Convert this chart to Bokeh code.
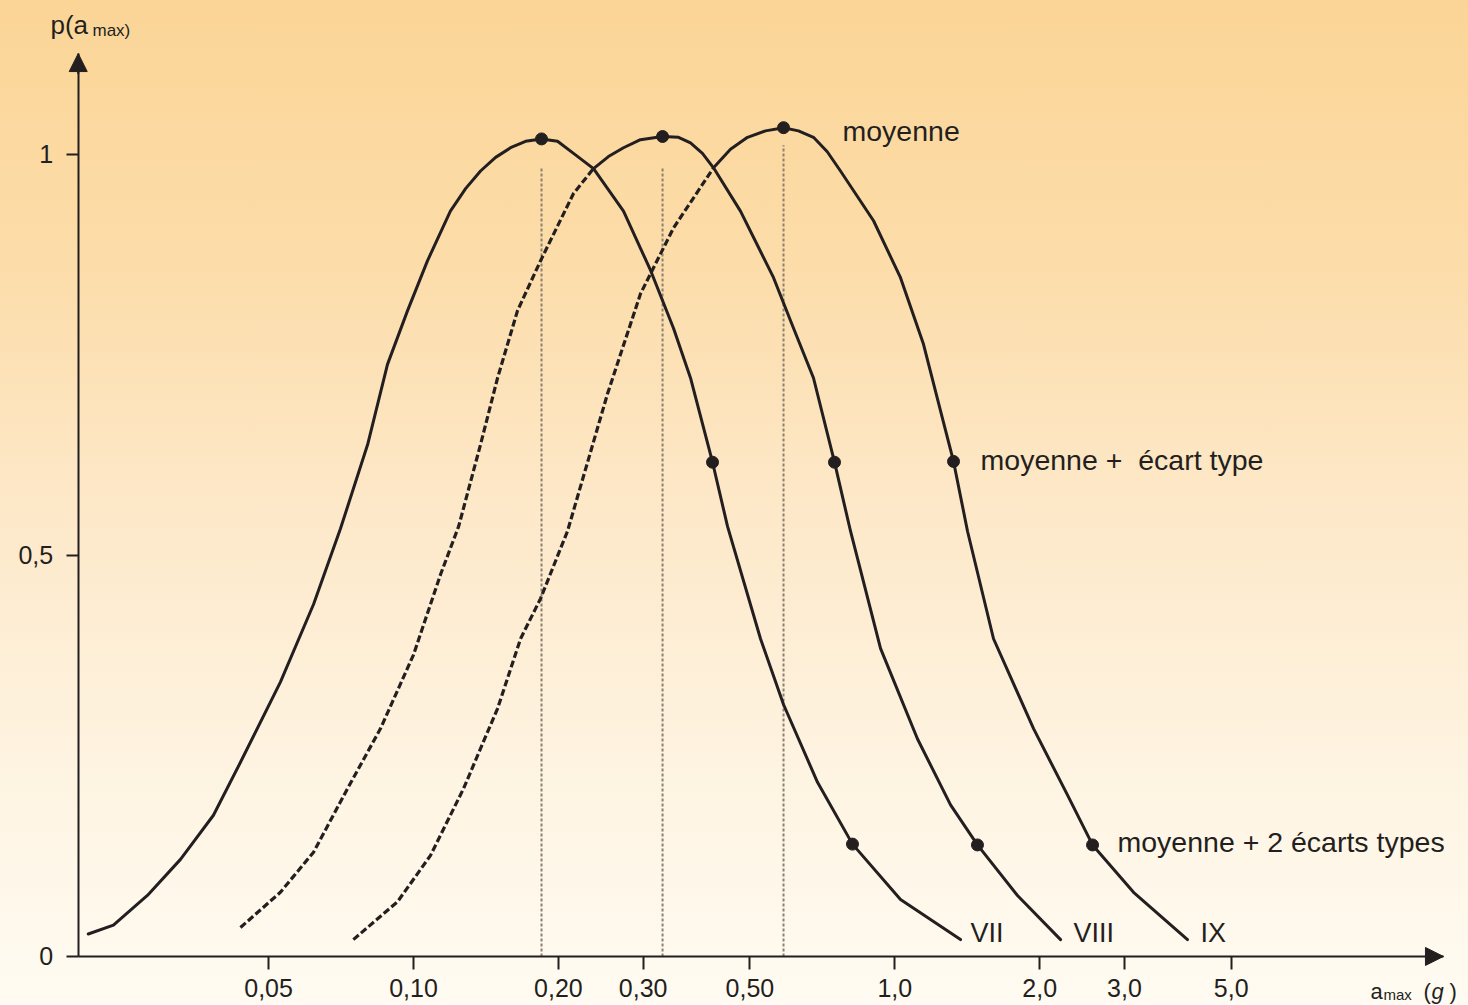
from bokeh.plotting import figure
from bokeh.models import Range1d, FixedTicker, Label, Arrow, NormalHead
from bokeh.embed import file_html
from bokeh.resources import INLINE

# ---------------- data ----------------
tick_vals = [0.05, 0.10, 0.20, 0.30, 0.50, 1.0, 2.0, 3.0, 5.0]
tick_labels = ["0,05", "0,10", "0,20", "0,30", "0,50", "1,0", "2,0", "3,0", "5,0"]
ytick_vals = [0, 0.5, 1]
ytick_labels = ["0", "0,5", "1"]

# intensity VII (solid all along)
vii_g = [0.0211, 0.0238, 0.0280, 0.0328, 0.0384, 0.0437, 0.0529, 0.0620, 0.0705, 0.0803,
         0.0883, 0.0972, 0.1069, 0.1193, 0.1283, 0.1378, 0.1481, 0.1591, 0.1709, 0.1845,
         0.1992, 0.2150, 0.2366, 0.2731, 0.3109, 0.3469, 0.3763, 0.4181, 0.4492, 0.5260,
         0.5872, 0.6909, 0.8167, 1.0276, 1.3693]
vii_p = [0.028, 0.039, 0.076, 0.121, 0.176, 0.242, 0.342, 0.439, 0.533, 0.638,
         0.738, 0.805, 0.867, 0.929, 0.957, 0.979, 0.996, 1.008, 1.016, 1.019,
         1.016, 1.001, 0.982, 0.929, 0.855, 0.783, 0.721, 0.616, 0.536, 0.396,
         0.314, 0.217, 0.140, 0.071, 0.021]

# intensity VIII (dashed part, then solid part)
viii_dash_g = [0.0437, 0.0529, 0.0620, 0.0729, 0.0854, 0.1000, 0.1138, 0.1241, 0.1378,
               0.1495, 0.1645, 0.1836, 0.2150, 0.2366]
viii_dash_p = [0.036, 0.080, 0.130, 0.209, 0.284, 0.376, 0.476, 0.536, 0.638,
               0.721, 0.805, 0.867, 0.951, 0.982]
viii_g = [0.2366, 0.2541, 0.2731, 0.2962, 0.3292, 0.3553, 0.3763, 0.3984, 0.4201, 0.4779,
          0.5598, 0.6160, 0.6777, 0.7494, 0.8091, 0.9339, 1.1148, 1.3055, 1.4849, 1.7984,
          2.2098]
viii_p = [0.982, 0.997, 1.008, 1.018, 1.022, 1.021, 1.014, 1.001, 0.983, 0.929,
          0.846, 0.783, 0.721, 0.616, 0.530, 0.384, 0.271, 0.189, 0.139, 0.076,
          0.021]

# intensity IX (dashed part, then solid part)
ix_dash_g = [0.0750, 0.0926, 0.1085, 0.1270, 0.1495, 0.1669, 0.1836, 0.2089, 0.2529,
             0.2962, 0.3469, 0.4201]
ix_dash_p = [0.021, 0.068, 0.126, 0.209, 0.309, 0.396, 0.446, 0.530, 0.701,
             0.826, 0.908, 0.983]
ix_g = [0.4201, 0.4556, 0.4943, 0.5387, 0.5872, 0.6307, 0.6777, 0.7239, 0.7711, 0.9032,
        1.0276, 1.1472, 1.2445, 1.3243, 1.4160, 1.6035, 1.9419, 2.2849, 2.5752, 3.1330,
        4.0562]
ix_p = [0.983, 1.006, 1.021, 1.029, 1.033, 1.029, 1.021, 1.003, 0.979, 0.917,
        0.846, 0.763, 0.680, 0.617, 0.530, 0.396, 0.284, 0.201, 0.139, 0.080,
        0.021]

# marked points: mean, mean + 1 sd, mean + 2 sd  (VII, VIII, IX)
mean_g = [0.1845, 0.3292, 0.5872]
mean_p = [1.019, 1.022, 1.033]
sd1_g = [0.4181, 0.7494, 1.3243]
sd1_p = [0.616, 0.616, 0.617]
sd2_g = [0.8167, 1.4849, 2.5752]
sd2_p = [0.140, 0.139, 0.139]
guide_top = [0.983, 0.983, 1.011]

# ---------------- figure ----------------
INK = "#231f20"
FONT = "Liberation Sans"
W, H = 1468, 1004
X_START, X_END = 0.013866, 15.556
Y_START, Y_END = -0.0599, 1.19152
X_AXIS_END = 13.8
Y_AXIS_X = 0.02011
Y_AXIS_END = 1.1254
PX = (Y_END - Y_START) / H   # data units per screen pixel (vertical)

p = figure(width=W, height=H, x_axis_type="log",
           x_range=Range1d(X_START, X_END), y_range=Range1d(Y_START, Y_END),
           output_backend="svg", toolbar_location=None, min_border=0)
p.grid.visible = False
p.outline_line_color = None
p.background_fill_alpha = 0
p.border_fill_alpha = 0
p.styles = {"background": "linear-gradient(180deg, #fbd597 0%, #fcdca8 25%, #fde8c8 50%, #fef3e0 75%, #fffbf2 100%)"}

xa = p.xaxis[0]
xa.ticker = FixedTicker(ticks=tick_vals)
xa.major_label_overrides = {v: l for v, l in zip(tick_vals, tick_labels)}
xa.fixed_location = 0
xa.bounds = (Y_AXIS_X, X_AXIS_END)
ya = p.yaxis[0]
ya.ticker = FixedTicker(ticks=ytick_vals)
ya.major_label_overrides = {v: l for v, l in zip(ytick_vals, ytick_labels)}
ya.fixed_location = Y_AXIS_X
ya.bounds = (0, Y_AXIS_END)
for ax in (xa, ya):
    ax.axis_line_color = INK
    ax.axis_line_width = 2
    ax.major_tick_line_color = INK
    ax.major_tick_line_width = 2
    ax.major_tick_in = 0
    ax.minor_tick_line_color = None
    ax.major_label_text_font = FONT
    ax.major_label_text_font_size = "25px"
    ax.major_label_text_color = INK
xa.major_tick_out = 13
xa.major_label_standoff = 10
ya.major_tick_out = 12
ya.major_label_standoff = 13

# arrow heads
p.add_layout(Arrow(end=NormalHead(size=18, fill_color=INK, line_color=INK),
                   x_start=13.0, y_start=0, x_end=X_AXIS_END, y_end=0,
                   line_color=INK, line_width=2))
p.add_layout(Arrow(end=NormalHead(size=18, fill_color=INK, line_color=INK),
                   x_start=Y_AXIS_X, y_start=1.10, x_end=Y_AXIS_X, y_end=Y_AXIS_END,
                   line_color=INK, line_width=2))

# vertical guides at the means
p.segment(x0=mean_g, y0=[0, 0, 0], x1=mean_g, y1=guide_top,
          line_color="#8d8070", line_width=2, line_dash="3 2")

# curves
for gx, py in [(vii_g, vii_p), (viii_g, viii_p), (ix_g, ix_p)]:
    p.line(gx, py, line_color=INK, line_width=3, line_join="round", line_cap="round")
for gx, py in [(viii_dash_g, viii_dash_p), (ix_dash_g, ix_dash_p)]:
    p.line(gx, py, line_color=INK, line_width=3.2, line_dash="7 3")

# marked points
p.scatter(mean_g + sd1_g + sd2_g, mean_p + sd1_p + sd2_p, size=12,
          fill_color=INK, line_color=INK)

# annotations (y is the text baseline; a small correction for the renderer's baseline)
def lab(x, y, text, size, style="normal"):
    y_adj = y + 0.33 * size * PX
    p.add_layout(Label(x=x, y=y_adj, text=text, text_font=FONT, text_font_size=f"{size}px",
                       text_color=INK, text_baseline="alphabetic", text_align="left",
                       text_font_style=style))

lab(0.7786, 1.0169, "moyenne", 28.5)
lab(1.507, 0.6076, "moyenne + \u00a0écart type", 28.5)
lab(2.902, 0.1310, "moyenne + 2 écarts types", 28.5)
lab(1.436, 0.0187, "VII", 27)
lab(2.351, 0.0187, "VIII", 27)
lab(4.318, 0.0187, "IX", 27)

# axis titles
lab(0.01761, 1.1503, "p(a", 26)
lab(0.02153, 1.1466, "max)", 17)
lab(9.736, -0.0524, "a", 22)
lab(10.36, -0.0537, "max", 15)
lab(12.55, -0.0524, "(", 22)
lab(13.03, -0.0524, "g", 22, "italic")
lab(14.21, -0.0524, ")", 22)

open("out.html", "w").write(file_html(p, INLINE))
